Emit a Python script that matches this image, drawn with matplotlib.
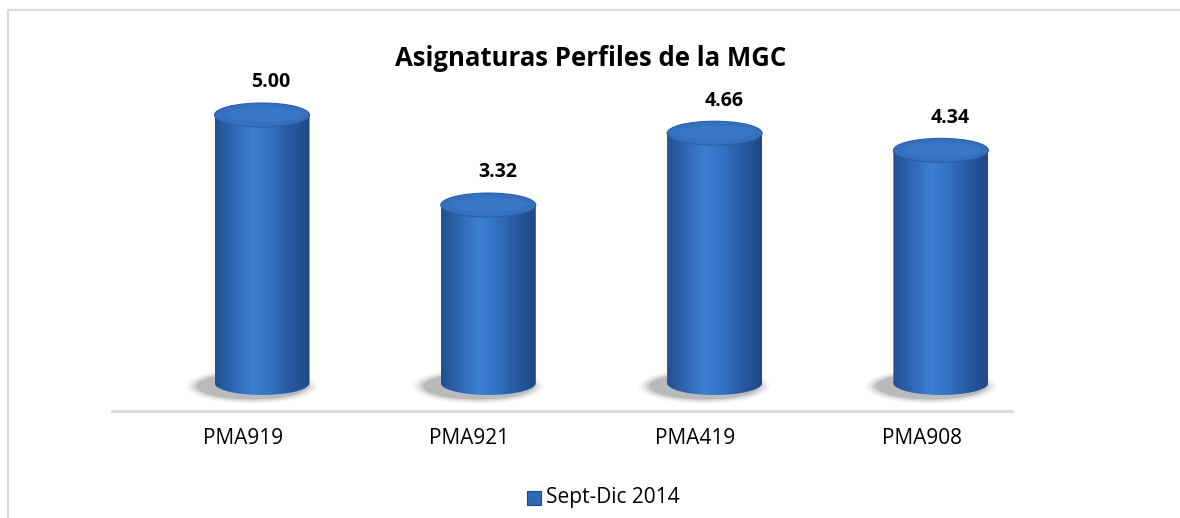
import numpy as np
import matplotlib
matplotlib.use('Agg')
import matplotlib.pyplot as plt
from matplotlib.patches import Ellipse, Rectangle, PathPatch
from matplotlib.path import Path
from matplotlib.lines import Line2D
from matplotlib.colors import LinearSegmentedColormap

# Donnees
categories = ['PMA919', 'PMA921', 'PMA419', 'PMA908']
valeurs = [5.00, 3.32, 4.66, 4.34]
serie = 'Sept-Dic 2014'
titre = 'Asignaturas Perfiles de la MGC'

plt.rcParams['font.family'] = ['Open Sans', 'DejaVu Sans']

W, H = 1180, 518
fig = plt.figure(figsize=(W / 100, H / 100), dpi=100)

# cadre gris clair (haut et gauche seulement visibles)
fig.lines.append(Line2D([8 / W, 8 / W, 1.0], [0.0, 1 - 10 / H, 1 - 10 / H], transform=fig.transFigure,
                        color='#d9d9d9', linewidth=1.5))

# axes places en pixels
ax_l, ax_r, ax_b, ax_t = 112, 1012, 411, 60
ax = fig.add_axes([ax_l / W, 1 - ax_b / H, (ax_r - ax_l) / W, (ax_b - ax_t) / H])
px_unit = 53.6          # pixels par unite
zero_px = 383           # position du zero
ax.set_ylim(-(ax_b - zero_px) / px_unit, (zero_px - ax_t) / px_unit)
px_cat = 226.3
ax.set_xlim((ax_l - 243) / px_cat, (ax_r - 243) / px_cat)

x = np.arange(len(categories))
decal = (262 - 243) / px_cat
larg = 95 / px_cat
eh = 24 / px_unit       # hauteur des ellipses

cmap = LinearSegmentedColormap.from_list('cyl', ['#214f8f', '#2f68b5', '#3c80d2', '#3271c0', '#27589f', '#1f4884'])
grad = cmap(np.linspace(0, 1, 256))[None, :, :]

for xi, v in zip(x, valeurs):
    cx = xi + decal
    # ombre
    for k, a in enumerate([0.05, 0.08, 0.12, 0.18]):
        ax.add_patch(Ellipse((cx - 0.045, -0.06), larg * (1.38 - 0.07 * k), eh * (1.45 - 0.12 * k),
                             facecolor='#4a4a4a', alpha=a, edgecolor='none', zorder=1))
    # corps du cylindre
    t = np.linspace(np.pi, 2 * np.pi, 60)
    bas = np.column_stack([cx + larg / 2 * np.cos(t), eh / 2 * np.sin(t)])
    pts = np.vstack([[cx - larg / 2, v], bas, [cx + larg / 2, v], [cx - larg / 2, v]])
    corps = PathPatch(Path(pts), facecolor='none', edgecolor='none')
    ax.add_patch(corps)
    im = ax.imshow(grad, extent=(cx - larg / 2, cx + larg / 2, -eh, v), aspect='auto', zorder=2,
                   interpolation='bilinear')
    im.set_clip_path(corps)
    # dessus
    ax.add_patch(Ellipse((cx, v), larg, eh, facecolor='#3570bf', edgecolor='#2a5ea8',
                         linewidth=0.8, zorder=3))
    ax.add_patch(Ellipse((cx + 0.01, v + 0.01), larg * 0.8, eh * 0.6, facecolor='#3a79ca',
                         edgecolor='none', alpha=0.8, zorder=3))
    ax.text(cx + 0.04, v + eh / 2 + 0.2, f'{v:.2f}', ha='center', va='bottom',
            fontsize=14, fontweight='bold', color='black', zorder=4)

ax.set_xticks(x)
ax.set_xticklabels(categories, fontsize=15)
ax.tick_params(axis='x', length=0, pad=12)
ax.set_yticks([])
for s in ['top', 'left', 'right']:
    ax.spines[s].set_visible(False)
ax.spines['bottom'].set_color('#d9d9d9')
ax.spines['bottom'].set_linewidth(2)

fig.text(591 / W, 1 - 58 / H, titre, ha='center', va='center', fontsize=18.5, fontweight='bold')

# legende
fig.patches.append(Rectangle((527 / W, 1 - 505 / H), 14 / W, 14 / H, transform=fig.transFigure,
                             facecolor='#2f68b5', edgecolor='#1f4a86', linewidth=0.8))
fig.text(546 / W, 1 - 497 / H, serie, ha='left', va='center', fontsize=15)

fig.savefig('out.png', dpi=100)
